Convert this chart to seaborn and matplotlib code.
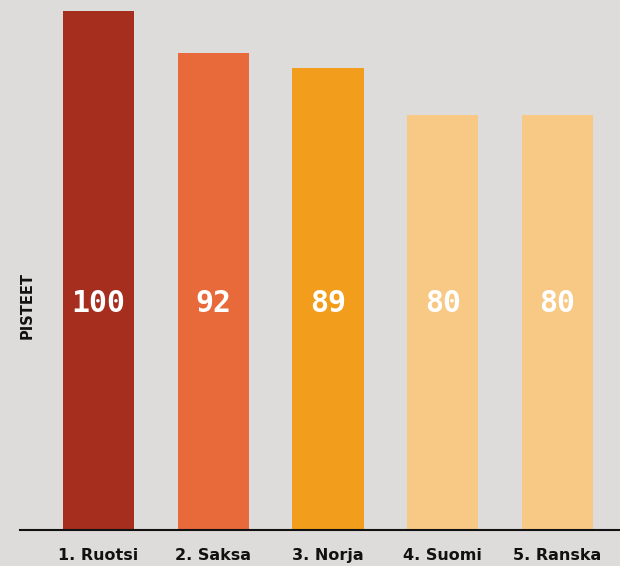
import matplotlib
matplotlib.use("Agg")
import matplotlib.pyplot as plt
import seaborn as sns
import pandas as pd

categories = ["1. Ruotsi", "2. Saksa", "3. Norja", "4. Suomi", "5. Ranska"]
values = [100, 92, 89, 80, 80]
colors = ["#a52e1e", "#e8693a", "#f29e1c", "#f7c984", "#f7c984"]
bg = "#dddcda"

df = pd.DataFrame({"maa": categories, "pisteet": values})

sns.set_theme(style="white")
fig = plt.figure(figsize=(6.2, 5.66), dpi=100, facecolor=bg)
ax = fig.add_axes([20/620, 36/566, 600/620, (530-11)/566])
ax.set_facecolor(bg)

sns.barplot(data=df, x="maa", y="pisteet", hue="maa", palette=colors,
            legend=False, width=0.62, saturation=1, linewidth=0, ax=ax)

ax.set_ylim(0, 100)
ax.set_xlim(-0.684, 4.545)
for s in ["top", "right", "left"]:
    ax.spines[s].set_visible(False)
ax.spines["bottom"].set_color("#111111")
ax.spines["bottom"].set_linewidth(1.5)
ax.set_yticks([])
ax.set_xlabel("")
ax.set_ylabel("")
ax.tick_params(axis="x", length=0, pad=13)
for lab in ax.get_xticklabels():
    lab.set_fontweight("bold")
    lab.set_fontsize(11.5)
    lab.set_color("#111111")

for i, v in enumerate(values):
    ax.text(i, 43.7, str(v), ha="center", va="center", color="white",
            fontsize=21.5, fontweight="bold", family="DejaVu Sans Mono")

fig.text(27/620, 1 - 305/566, "PISTEET", rotation=90, ha="center", va="center",
         fontsize=10.5, fontweight="bold", color="#111111")

fig.savefig("out.png", dpi=100, facecolor=bg)
